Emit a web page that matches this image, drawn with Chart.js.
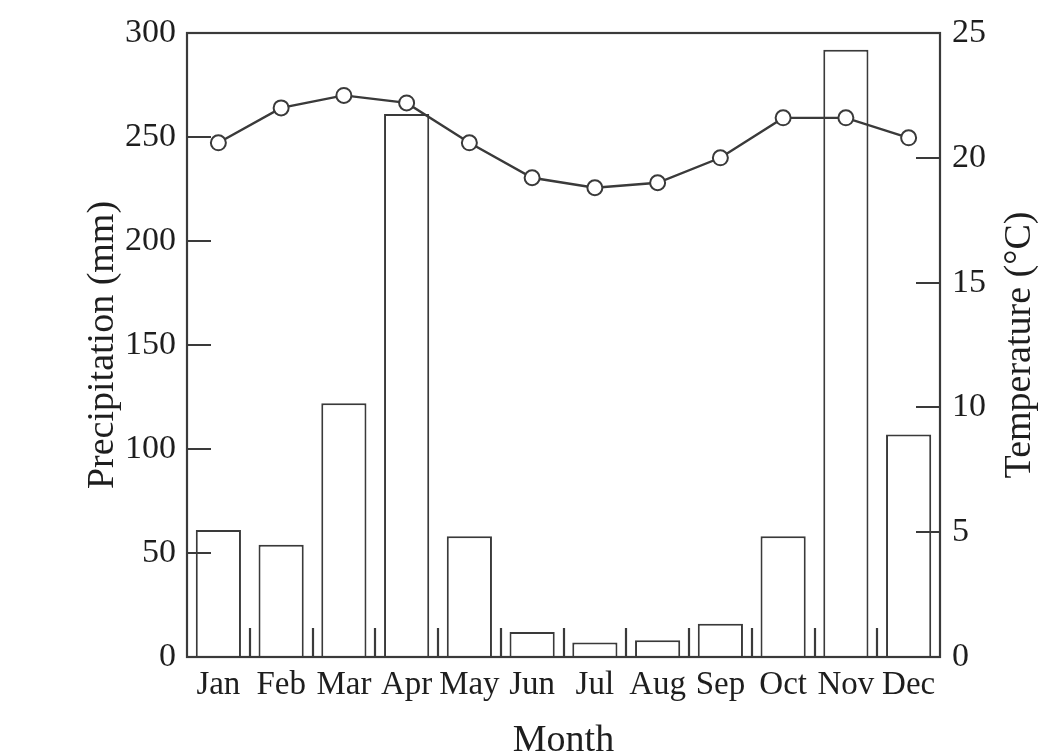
<!DOCTYPE html>
<html>
<head>
<meta charset="utf-8">
<script src="https://cdn.jsdelivr.net/npm/chart.js@4/dist/chart.umd.min.js"></script>
<style>
  html,body{margin:0;padding:0;background:#fff;}
  #wrap{width:1064px;height:755px;}
</style>
</head>
<body>
<div id="wrap"><canvas id="c"></canvas></div>
<script>
// climate chart: monthly precipitation bars + temperature line
const months = ['Jan','Feb','Mar','Apr','May','Jun','Jul','Aug','Sep','Oct','Nov','Dec'];
const precip = [61, 54, 122, 261, 58, 12, 7, 8, 16, 58, 292, 107];
const temp = [20.6, 22.0, 22.5, 22.2, 20.6, 19.2, 18.8, 19.0, 20.0, 21.6, 21.6, 20.8];
const precipTicks = [0, 50, 100, 150, 200, 250, 300];
const tempTicks = [0, 5, 10, 15, 20, 25];

const INK = '#3a3a3a';
const TXT = '#1e1e1e';
const FAM = '"Liberation Serif", "Times New Roman", serif';

// inside ticks, category separators, frame, right-hand title
const frame = {
  id: 'frame',
  afterDraw(chart){
    const {ctx, chartArea:a, scales} = chart;
    ctx.save();
    ctx.strokeStyle = INK; ctx.lineWidth = 2.2;
    ctx.beginPath();
    precipTicks.slice(1, -1).forEach(v=>{
      const y = Math.round(scales.y.getPixelForValue(v));
      ctx.moveTo(a.left, y); ctx.lineTo(a.left + 24, y);
    });
    tempTicks.slice(1, -1).forEach(v=>{
      const y = Math.round(scales.y1.getPixelForValue(v));
      ctx.moveTo(a.right - 24, y); ctx.lineTo(a.right, y);
    });
    for(let i=1;i<months.length;i++){
      const x = Math.round((scales.x.getPixelForValue(i-1) + scales.x.getPixelForValue(i))/2);
      ctx.moveTo(x, a.bottom); ctx.lineTo(x, a.bottom - 29);
    }
    ctx.stroke();
    ctx.strokeRect(a.left, a.top, a.right - a.left, a.bottom - a.top);
    // right title reads bottom-to-top like the left one
    ctx.fillStyle = TXT;
    ctx.font = '38px ' + FAM;
    ctx.textAlign = 'center'; ctx.textBaseline = 'middle';
    ctx.translate(1020, (a.top + a.bottom)/2);
    ctx.rotate(-Math.PI/2);
    ctx.fillText('Temperature (°C)', 0, 0);
    ctx.restore();
  }
};

new Chart(document.getElementById('c'), {
  data: {
    labels: months,
    datasets: [
      {type:'line', data:temp, yAxisID:'y1', order:0, borderColor:INK, borderWidth:2.4, tension:0,
       pointRadius:7.5, pointBackgroundColor:'#fff', pointBorderColor:INK, pointBorderWidth:2},
      {type:'bar', data:precip, yAxisID:'y', order:1, backgroundColor:'#fff', borderColor:INK,
       borderWidth:2, barPercentage:0.72, categoryPercentage:1}
    ]
  },
  options: {
    responsive:true, maintainAspectRatio:false, animation:false,
    layout:{padding:{left:70, right:10, top:33, bottom:0}},
    plugins:{legend:{display:false}, tooltip:{enabled:false}},
    scales:{
      x:{
        offset:true,
        grid:{display:false, drawTicks:false}, border:{display:false},
        ticks:{color:TXT, font:{family:FAM, size:33}, padding:9, maxRotation:0, autoSkip:false},
        title:{display:true, text:'Month', color:TXT, font:{family:FAM, size:38, lineHeight:0.74}, padding:{top:0, bottom:0}},
        afterFit(s){ s.height = 98; }
      },
      y:{
        position:'left', min:0, max:300,
        afterBuildTicks(s){ s.ticks = precipTicks.map(v=>({value:v})); },
        grid:{display:false, drawTicks:false}, border:{display:false},
        ticks:{color:TXT, font:{family:FAM, size:34}, padding:11},
        title:{display:true, text:'Precipitation (mm)', color:TXT, font:{family:FAM, size:38, lineHeight:1}, padding:{top:14, bottom:0}},
        afterFit(s){ s.width = 117; }
      },
      y1:{
        position:'right', min:0, max:25,
        afterBuildTicks(s){ s.ticks = tempTicks.map(v=>({value:v})); },
        grid:{display:false, drawTicks:false}, border:{display:false},
        ticks:{color:TXT, font:{family:FAM, size:34}, padding:12},
        afterFit(s){ s.width = 114; }
      }
    }
  },
  plugins:[frame]
});
</script>
</body>
</html>
